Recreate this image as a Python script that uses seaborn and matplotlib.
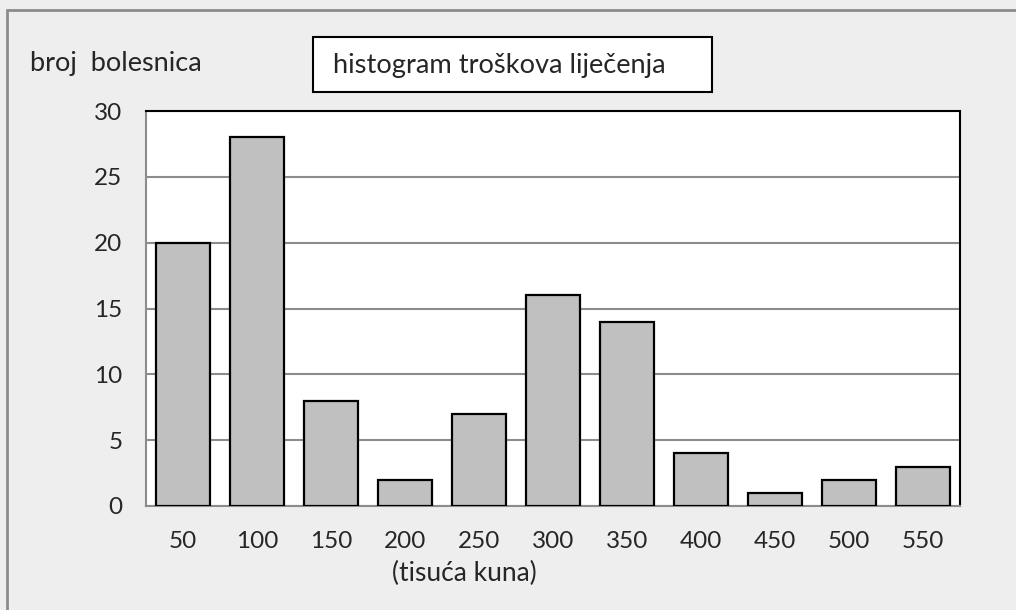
import matplotlib
matplotlib.use("Agg")
import matplotlib.pyplot as plt
import seaborn as sns
import pandas as pd
from matplotlib.patches import Rectangle

# data
kategorije = ['50', '100', '150', '200', '250', '300', '350', '400', '450', '500', '550']
broj = [20, 28, 8, 2, 7, 16, 14, 4, 1, 2, 3]
y_ticks = [0, 5, 10, 15, 20, 25, 30]

df = pd.DataFrame({'trosak': kategorije, 'broj': broj})

sns.set_style('white')
plt.rcParams['font.family'] = ['Lato', 'DejaVu Sans']

W, H = 1016, 610
fig = plt.figure(figsize=(W / 100, H / 100), dpi=100)
fig.patch.set_facecolor('#eeeeee')

# outer gray frame (only left and top visible)
fig.patches.append(Rectangle((7 / W, -0.1), 1.2, 1 - 10 / H + 0.1, transform=fig.transFigure,
                             fill=False, edgecolor='#8c8c8c', linewidth=2, zorder=0))

ax = fig.add_axes([146 / W, 1 - 506 / H, (960 - 146) / W, (506 - 111) / H])
ax.set_facecolor('white')

sns.barplot(data=df, x='trosak', y='broj', color='#c0c0c0', edgecolor='black',
            linewidth=1.6, width=0.73, saturation=1, ax=ax, zorder=3)

ax.set_ylim(0, 30)
ax.set_xlim(-0.5, len(kategorije) - 0.5)
ax.set_yticks(y_ticks)
ax.yaxis.grid(True, color='#8c8c8c', linewidth=1.5, zorder=0)
ax.set_axisbelow(True)

# x ticks sit between categories
ax.set_xticks([i - 0.5 for i in range(len(kategorije) + 1)], minor=True)
ax.tick_params(axis='x', which='major', length=0, pad=18, labelsize=17.5)
ax.tick_params(axis='x', which='minor', length=7, width=1.5, color='#8c8c8c', direction='out')
ax.tick_params(axis='y', which='major', length=8, width=1.5, color='#8c8c8c', direction='out',
               labelsize=17.5, pad=9)
ax.set_xlabel('')
ax.set_ylabel('')

for s in ['left', 'bottom']:
    ax.spines[s].set_color('#8c8c8c')
    ax.spines[s].set_linewidth(1.5)
for s in ['top', 'right']:
    ax.spines[s].set_color('black')
    ax.spines[s].set_linewidth(1.5)
    ax.spines[s].set_visible(True)

fig.text(30 / W, 1 - 64 / H, 'broj  bolesnica', fontsize=19.5, ha='left', va='center')
fig.text(392 / W, 1 - 573 / H, '(tisuća kuna)', fontsize=19, ha='left', va='center')

# title box
fig.patches.append(Rectangle((313 / W, 1 - 92 / H), (712 - 313) / W, (92 - 37) / H,
                             transform=fig.transFigure, facecolor='white', edgecolor='black',
                             linewidth=1.5, zorder=1))
fig.text(333 / W, 1 - 65 / H, 'histogram troškova liječenja', fontsize=19.6,
         ha='left', va='center', zorder=2)

fig.savefig('out.png', dpi=100, facecolor=fig.get_facecolor())
